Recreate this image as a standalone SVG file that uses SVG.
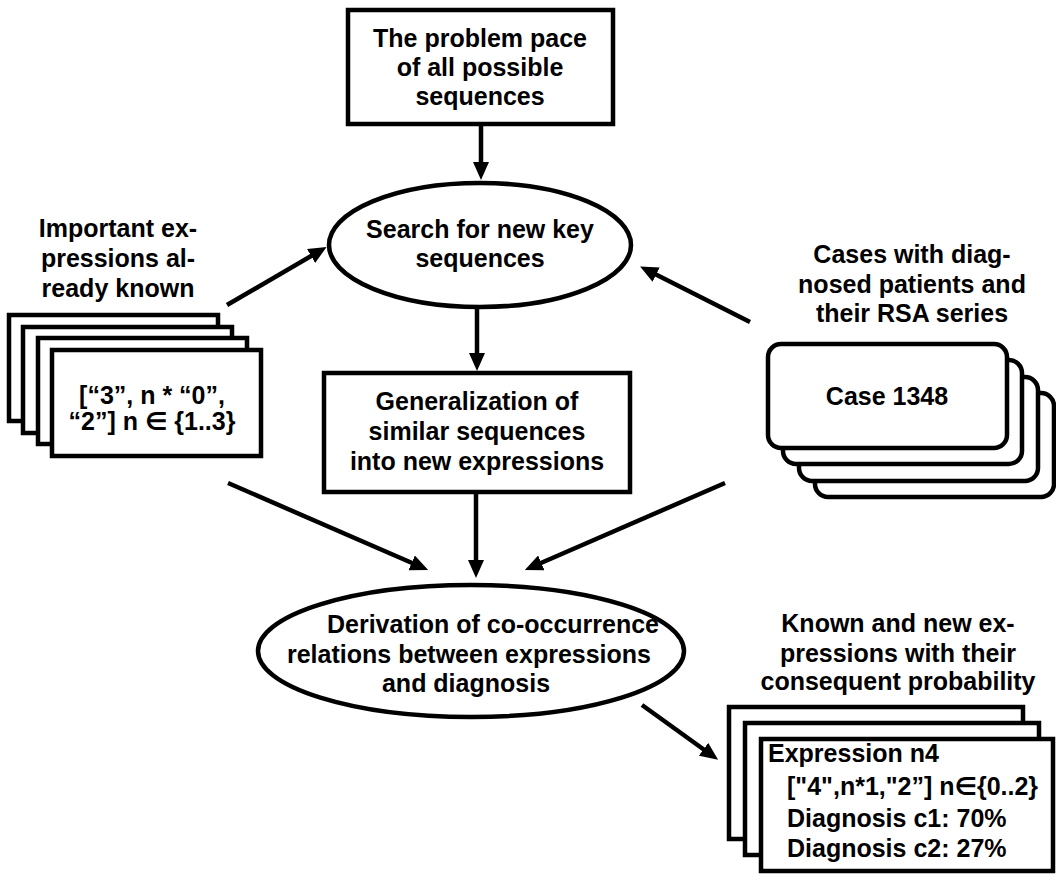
<svg xmlns="http://www.w3.org/2000/svg" width="1056" height="875" viewBox="0 0 1056 875">
<defs>
<style>
text{font-family:"Liberation Sans",Arial,"DejaVu Sans",sans-serif;font-weight:bold;font-size:25px;fill:#000}
.c{text-anchor:middle}
.box{fill:#fff;stroke:#000;stroke-width:4.5}
.edge{stroke:#000;stroke-width:4.5;fill:none;marker-end:url(#ah)}
</style>
<marker id="ah" viewBox="0 0 18 16" refX="8" refY="8" markerWidth="18" markerHeight="16" markerUnits="userSpaceOnUse" orient="auto">
<path d="M0,0 L18,8 L0,16 z" fill="#000"/>
</marker>
</defs>
<rect width="1056" height="875" fill="#fff"/>

<g id="problem-space">
<rect class="box" x="348" y="10" width="265" height="114"/>
<text class="c" x="480" y="47">The problem pace</text>
<text class="c" x="480" y="76">of all possible</text>
<text class="c" x="480" y="105">sequences</text>
</g>

<g id="search">
<ellipse class="box" cx="480" cy="245" rx="151" ry="62"/>
<text class="c" x="480" y="238">Search for new key</text>
<text class="c" x="480" y="267">sequences</text>
</g>

<g id="generalization">
<rect class="box" x="324" y="373" width="306" height="119"/>
<text class="c" x="477" y="410">Generalization of</text>
<text class="c" x="477" y="440">similar sequences</text>
<text class="c" x="477" y="470">into new expressions</text>
</g>

<g id="derivation">
<ellipse class="box" cx="471" cy="651" rx="213" ry="66"/>
<text class="c" x="493" y="633">Derivation of co-occurrence</text>
<text class="c" x="469" y="663">relations between expressions</text>
<text class="c" x="466" y="692">and diagnosis</text>
</g>

<g id="known-expressions">
<text class="c" x="118" y="237">Important ex-</text>
<text class="c" x="118" y="267">pressions al-</text>
<text class="c" x="118" y="297">ready known</text>
<rect class="box" x="9" y="315" width="209" height="106"/>
<rect class="box" x="23" y="327" width="209" height="106"/>
<rect class="box" x="38" y="338" width="209" height="106"/>
<rect class="box" x="52" y="350" width="209" height="106"/>
<text class="c" x="152" y="404">[“3”, n * “0”,</text>
<text class="c" x="152" y="430">“2”] n ∈ {1..3}</text>
</g>

<g id="cases">
<text class="c" x="912" y="263">Cases with diag-</text>
<text class="c" x="912" y="293">nosed patients and</text>
<text class="c" x="912" y="322">their RSA series</text>
<rect class="box" x="815" y="393" width="239" height="104" rx="13"/>
<rect class="box" x="799" y="377" width="239" height="104" rx="13"/>
<rect class="box" x="783" y="360" width="239" height="104" rx="13"/>
<rect class="box" x="768" y="344" width="239" height="104" rx="13"/>
<text class="c" x="887" y="405">Case 1348</text>
</g>

<g id="result-expressions">
<text class="c" x="898" y="632">Known and new ex-</text>
<text class="c" x="898" y="662">pressions with their</text>
<text class="c" x="898" y="690">consequent probability</text>
<rect class="box" x="729" y="707" width="294" height="132"/>
<rect class="box" x="745" y="723" width="294" height="132"/>
<rect class="box" x="761" y="739" width="292" height="132"/>
<text x="768" y="762">Expression n4</text>
<text x="787" y="795">["4",n*1,"2”] n∈{0..2}</text>
<text x="787" y="827">Diagnosis c1: 70%</text>
<text x="787" y="857">Diagnosis c2: 27%</text>
</g>

<g id="connectors">
<line class="edge" x1="481" y1="124" x2="481" y2="170"/>
<line class="edge" x1="227" y1="305" x2="318" y2="252"/>
<line class="edge" x1="750" y1="322" x2="649" y2="271"/>
<line class="edge" x1="477" y1="307" x2="477" y2="361"/>
<line class="edge" x1="228" y1="483" x2="419" y2="566"/>
<line class="edge" x1="476" y1="492" x2="476" y2="568"/>
<line class="edge" x1="725" y1="483" x2="534" y2="566"/>
<line class="edge" x1="642" y1="705" x2="710" y2="754"/>
</g>
</svg>
